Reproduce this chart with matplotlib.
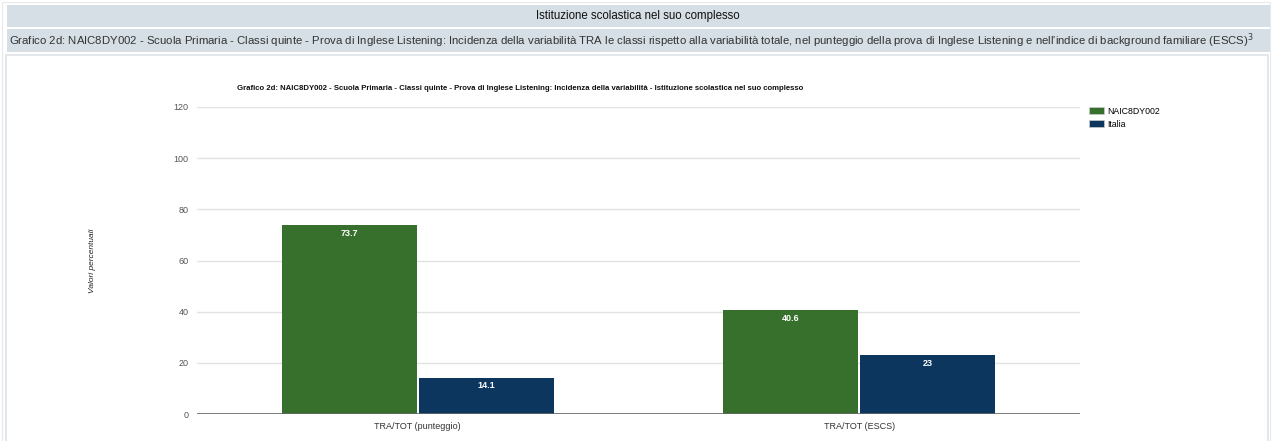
import matplotlib
matplotlib.use("Agg")
import matplotlib.pyplot as plt
from matplotlib.patches import Rectangle, Patch
import numpy as np

categories = ["TRA/TOT (punteggio)", "TRA/TOT (ESCS)"]
series_names = ["NAIC8DY002", "Italia"]
school_values = [73.7, 40.6]
italy_values = [14.1, 23]
value_labels_school = ["73.7", "40.6"]
value_labels_italy = ["14.1", "23"]
yticks = [0, 20, 40, 60, 80, 100, 120]

header_title = "Istituzione scolastica nel suo complesso"
subtitle = ("Grafico 2d: NAIC8DY002 - Scuola Primaria - Classi quinte - Prova di Inglese Listening: "
            "Incidenza della variabilità TRA le classi rispetto alla variabilità totale, nel punteggio "
            "della prova di Inglese Listening e nell'indice di background familiare (ESCS)$^3$")
chart_title = ("Grafico 2d: NAIC8DY002 - Scuola Primaria - Classi quinte - Prova di Inglese Listening: "
               "Incidenza della variabilità - Istituzione scolastica nel suo complesso")
ylabel = "Valori percentuali"

green = "#37702c"
blue = "#0d365e"

W, H = 1272, 441
fig = plt.figure(figsize=(W / 100, H / 100), dpi=100)
fig.patch.set_facecolor("white")

def fx(px):
    return px / W

def fy(py):
    return 1 - py / H

FAM = ["Liberation Sans", "DejaVu Sans"]

# header bars
hdr_col = "#d5dfe5"
fig.add_artist(Rectangle((fx(7), fy(27)), fx(1263), (22) / H, transform=fig.transFigure,
                         facecolor=hdr_col, edgecolor="none"))
fig.add_artist(Rectangle((fx(7), fy(52)), fx(1263), (23) / H, transform=fig.transFigure,
                         facecolor=hdr_col, edgecolor="none"))
# panel borders
fig.add_artist(Rectangle((fx(6), fy(445)), fx(1262), (445 - 55) / H, transform=fig.transFigure,
                         facecolor="none", edgecolor="#dde3e7", lw=1.2))
fig.add_artist(Rectangle((fx(2), fy(445)), fx(1268), (445 - 2) / H, transform=fig.transFigure,
                         facecolor="none", edgecolor="#e6eaed", lw=0.8))

fig.text(fx(638), fy(16), header_title, ha="center", va="center", fontsize=8.3,
         family=["Liberation Sans Narrow"] + FAM, color="#111111")
fig.text(fx(9), fy(40.5), subtitle, ha="left", va="center", fontsize=8.22,
         family=FAM, color="#333333")

ax = fig.add_axes([fx(197), 1 - 414 / H, 883 / W, 307 / H])
x = np.arange(len(categories))
bw = 0.306
b1 = ax.bar(x - bw / 2 - 0.002, school_values, bw, color=green, label=series_names[0], zorder=3)
b2 = ax.bar(x + bw / 2 + 0.002, italy_values, bw, color=blue, label=series_names[1], zorder=3)

for rects, labs in ((b1, value_labels_school), (b2, value_labels_italy)):
    for r, lab in zip(rects, labs):
        ax.annotate(lab, (r.get_x() + r.get_width() / 2, r.get_height()), xytext=(0, -2.5),
                    textcoords="offset points", ha="center", va="top", color="white",
                    fontsize=6.5, fontweight="bold", family=FAM, zorder=4)

ax.set_xlim(-0.5, 1.5)
ax.set_ylim(0, 120)
ax.set_yticks(yticks)
ax.set_xticks(x)
ax.set_xticklabels(categories, fontsize=6.5, color="#333333", family=FAM)
ax.tick_params(axis="y", length=0, pad=6, labelsize=6.5, labelcolor="#555555")
ax.tick_params(axis="x", length=0, pad=6)
for lab in ax.get_yticklabels():
    lab.set_family(FAM)
ax.grid(axis="y", color="#e2e2e2", lw=1, zorder=0)
for s in ax.spines.values():
    s.set_visible(False)
ax.axhline(0, color="#666666", lw=1.2, zorder=5)
ax.set_ylabel(ylabel, fontsize=6, style="italic", color="#222222", family=FAM)
ax.yaxis.set_label_coords((96 - 197) / 883, 0.5)

fig.text(fx(237), fy(89), chart_title, ha="left", va="center", fontsize=5.6, fontweight="bold",
         family=FAM, color="#111111")

handles = [Patch(facecolor=green, edgecolor="#cccccc", lw=0.5), Patch(facecolor=blue, edgecolor="#cccccc", lw=0.5)]
fig.legend(handles, series_names, loc="upper left", bbox_to_anchor=(fx(1081), fy(99)),
           frameon=False, handlelength=1.7, handleheight=0.9, handletextpad=0.35,
           labelspacing=0.45, prop={"family": FAM, "size": 6.3})

fig.savefig("out.png", dpi=100, facecolor="white")
